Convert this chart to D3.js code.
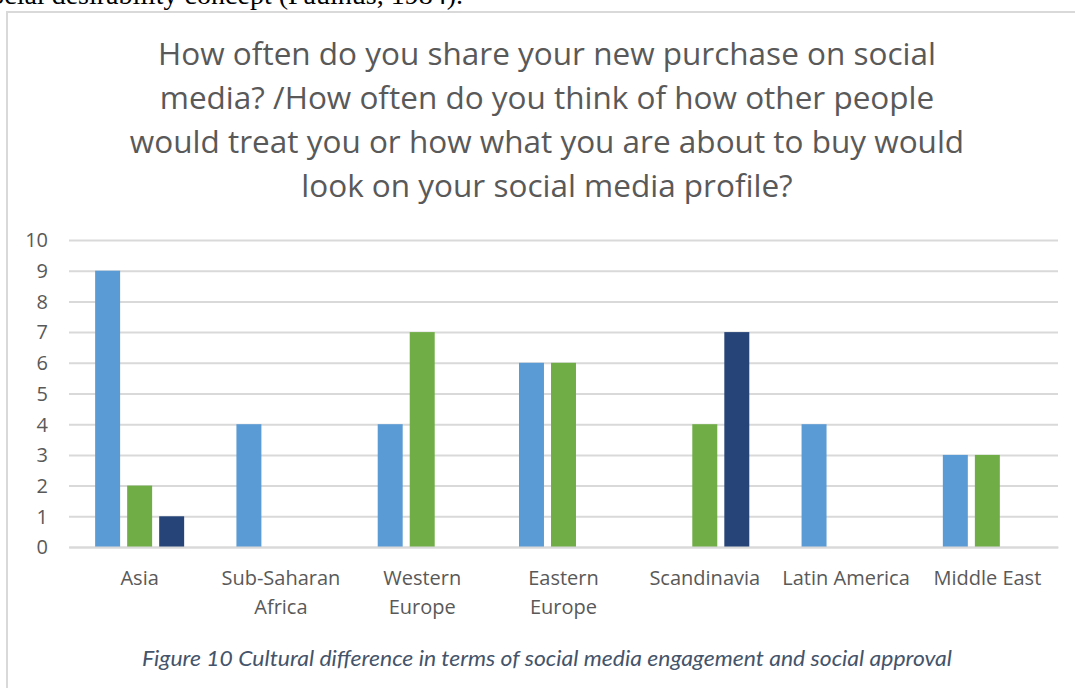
<!DOCTYPE html>
<html>
<head>
<meta charset="utf-8">
<script src="https://cdn.jsdelivr.net/npm/d3@7"></script>
<style>
  html, body { margin: 0; padding: 0; background: #fff; }
  svg { display: block; }
</style>
</head>
<body>
<svg id="page" width="1075" height="688"></svg>
<script>
// Regions on the x axis (labels broken over two lines where needed)
const categories = ["Asia", "Sub-Saharan Africa", "Western Europe", "Eastern Europe", "Scandinavia", "Latin America", "Middle East"];
const categoryLines = [["Asia"], ["Sub-Saharan", "Africa"], ["Western", "Europe"], ["Eastern", "Europe"], ["Scandinavia"], ["Latin America"], ["Middle East"]];

// Three answer groups per region
const seriesA = [9, 4, 4, 6, 0, 4, 3];
const seriesB = [2, 0, 7, 6, 4, 0, 3];
const seriesC = [1, 0, 0, 0, 7, 0, 0];
const seriesNames = ["A", "B", "C"];
const seriesColors = ["#5b9bd5", "#70ad47", "#264478"];

const yTicks = [0, 1, 2, 3, 4, 5, 6, 7, 8, 9, 10];

const titleLines = [
  "How often do you share your new purchase on social",
  "media? /How often do you think of how other people",
  "would treat you or how what you are about to buy would",
  "look on your social media profile?"
];
const captionText = "Figure 10 Cultural difference in terms of social media engagement and social approval";

const svg = d3.select("#page");

// Running text from the page above the chart
svg.append("text")
  .attr("x", 463).attr("y", 4)
  .attr("text-anchor", "end")
  .attr("font-family", "'Liberation Serif', serif")
  .attr("font-size", 28)
  .attr("fill", "#000")
  .text("social desirability concept (Paulhus, 1984).");

// Chart frame: top and left edges
svg.append("path")
  .attr("d", "M7,688 V12 H1075")
  .attr("fill", "none")
  .attr("stroke", "#d9d9d9")
  .attr("stroke-width", 2);
svg.append("rect")
  .attr("x", 8).attr("y", 642).attr("width", 3).attr("height", 46)
  .attr("fill", "#fff");

// Title
svg.append("g").selectAll("text")
  .data(titleLines)
  .join("text")
  .attr("x", 547)
  .attr("y", (d, i) => 65 + i * 44)
  .attr("text-anchor", "middle")
  .attr("font-family", "'Open Sans', sans-serif")
  .attr("font-size", 31.5)
  .attr("fill", "#595959")
  .text(d => d);

const x0 = d3.scaleBand().domain(categories).range([69, 1058]).paddingInner(0).paddingOuter(0);
const y = d3.scaleLinear().domain([0, 10]).range([547, 240]);
const groupWidth = x0.bandwidth() * 0.63;
const x1 = d3.scaleBand().domain(seriesNames).range([0, groupWidth]).paddingInner(0.22);

// Horizontal gridlines
const yAxis = d3.axisLeft(y).tickValues(yTicks).tickSize(-(1058 - 69)).tickFormat(d3.format("d"));
const gy = svg.append("g").attr("transform", "translate(69,0)").call(yAxis);
gy.select(".domain").remove();
gy.selectAll(".tick line").attr("stroke", "#d9d9d9").attr("stroke-width", 2);
gy.selectAll(".tick text")
  .attr("x", -21)
  .attr("dy", "0.34em")
  .attr("font-family", "'Open Sans', sans-serif")
  .attr("font-size", 20)
  .attr("fill", "#595959");

// Bars
const allSeries = [seriesA, seriesB, seriesC];
const rows = categories.map((c, i) => ({ cat: c, values: seriesNames.map((s, k) => ({ s, k, v: allSeries[k][i] })) }));
const groups = svg.append("g").selectAll("g")
  .data(rows)
  .join("g")
  .attr("transform", d => `translate(${x0(d.cat) + (x0.bandwidth() - groupWidth) / 2},0)`);
groups.selectAll("rect")
  .data(d => d.values.filter(v => v.v > 0))
  .join("rect")
  .attr("x", d => x1(d.s))
  .attr("y", d => y(d.v))
  .attr("width", x1.bandwidth())
  .attr("height", d => y(0) - y(d.v))
  .attr("fill", d => seriesColors[d.k]);

// Category axis
const xAxis = d3.axisBottom(x0).tickSize(0).tickFormat("");
const gx = svg.append("g").attr("transform", `translate(0,${y(0)})`).call(xAxis);
gx.select(".domain").attr("stroke", "#d9d9d9").attr("stroke-width", 2);
const labels = svg.append("g").selectAll("text")
  .data(categories)
  .join("text")
  .attr("x", d => x0(d) + x0.bandwidth() / 2)
  .attr("y", 585)
  .attr("text-anchor", "middle")
  .attr("font-family", "'Open Sans', sans-serif")
  .attr("font-size", 20)
  .attr("fill", "#595959");
labels.selectAll("tspan")
  .data((d, i) => categoryLines[i])
  .join("tspan")
  .attr("x", function () { return d3.select(this.parentNode).attr("x"); })
  .attr("dy", (d, i) => i === 0 ? 0 : 29)
  .text(d => d);

// Caption
svg.append("text")
  .attr("x", 547).attr("y", 666)
  .attr("text-anchor", "middle")
  .attr("font-family", "Lato, sans-serif")
  .attr("font-style", "italic")
  .attr("font-size", 21)
  .attr("fill", "#44546a")
  .attr("textLength", 810)
  .attr("lengthAdjust", "spacingAndGlyphs")
  .text(captionText);
</script>
</body>
</html>
